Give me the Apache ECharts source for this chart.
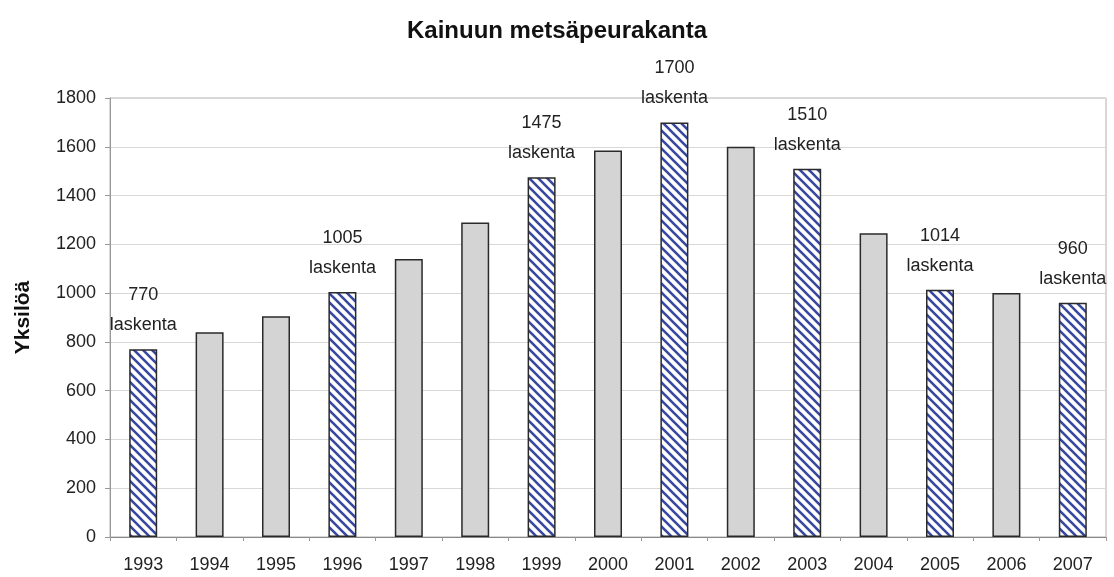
<!DOCTYPE html>
<html>
<head>
    <meta charset="utf-8">
    <title>Kainuun metsäpeurakanta</title>
    <script src="https://cdn.jsdelivr.net/npm/echarts@6/dist/echarts.min.js"></script>
</head>
<body style="margin:0;background:#fff;">
<div id="chart" style="width:1114px;height:577px;"></div>
<script type="text/javascript">
    // vuodet ja kannan koko
    var years = ['1993', '1994', '1995', '1996', '1997', '1998', '1999', '2000',
        '2001', '2002', '2003', '2004', '2005', '2006', '2007'];
    var counts = [770, 840, 905, 1005, 1140, 1290, 1475, 1585, 1700, 1600, 1510, 1245, 1014, 1000, 960];
    // laskentavuodet (vinoviivoitetut pylväät)
    var counted = [true, false, false, true, false, false, true, false, true, false, true, false, true, false, true];
    var yTicks = [0, 200, 400, 600, 800, 1000, 1200, 1400, 1600, 1800];

    // vinoviivakuvio
    var hatch = document.createElement('canvas');
    hatch.width = 9;
    hatch.height = 9;
    var ctx = hatch.getContext('2d');
    ctx.fillStyle = '#ffffff';
    ctx.fillRect(0, 0, 9, 9);
    ctx.strokeStyle = '#3848a0';
    ctx.lineWidth = 2.6;
    ctx.beginPath();
    ctx.moveTo(-1, -1); ctx.lineTo(10, 10);
    ctx.moveTo(-10, -1); ctx.lineTo(1, 10);
    ctx.moveTo(8, -1); ctx.lineTo(19, 10);
    ctx.stroke();

    var barData = counts.map(function (v, i) {
        var item = {
            value: v,
            itemStyle: {
                color: counted[i] ? {image: hatch, repeat: 'repeat'} : '#d4d4d4',
                borderColor: '#2a2a2a',
                borderWidth: 1.5
            }
        };
        if (counted[i]) {
            item.label = {
                show: true,
                position: 'top',
                distance: 9,
                formatter: '{c}\nlaskenta',
                color: '#222',
                fontSize: 18,
                lineHeight: 30
            };
        }
        return item;
    });

    var myChart = echarts.init(document.getElementById('chart'));
    myChart.setOption({
        animation: false,
        textStyle: {fontFamily: 'Liberation Sans, Arial, sans-serif'},
        title: {
            text: 'Kainuun metsäpeurakanta',
            left: 'center',
            top: 14,
            textStyle: {fontSize: 24, fontWeight: 'bold', color: '#111'}
        },
        grid: {
            left: 110,
            right: 8,
            top: 98,
            bottom: 40,
            show: true,
            borderColor: '#b0b0b0',
            borderWidth: 1
        },
        xAxis: {
            type: 'category',
            data: years,
            axisLine: {lineStyle: {color: '#888'}},
            axisTick: {show: true, length: 4, lineStyle: {color: '#999'}},
            axisLabel: {color: '#222', fontSize: 18, margin: 19}
        },
        yAxis: {
            type: 'value',
            min: yTicks[0],
            max: yTicks[yTicks.length - 1],
            interval: 200,
            name: 'Yksilöä',
            nameLocation: 'middle',
            nameGap: 76,
            nameTextStyle: {fontSize: 21, fontWeight: 'bold', color: '#111'},
            axisLine: {show: true, lineStyle: {color: '#999'}},
            axisTick: {show: true, length: 5, lineStyle: {color: '#999'}},
            axisLabel: {color: '#222', fontSize: 18, margin: 14, formatter: function (v) { return String(v); }},
            splitLine: {lineStyle: {color: '#d8d8d8'}}
        },
        series: [{
            type: 'bar',
            barWidth: 28,
            data: barData
        }]
    });
</script>
</body>
</html>
